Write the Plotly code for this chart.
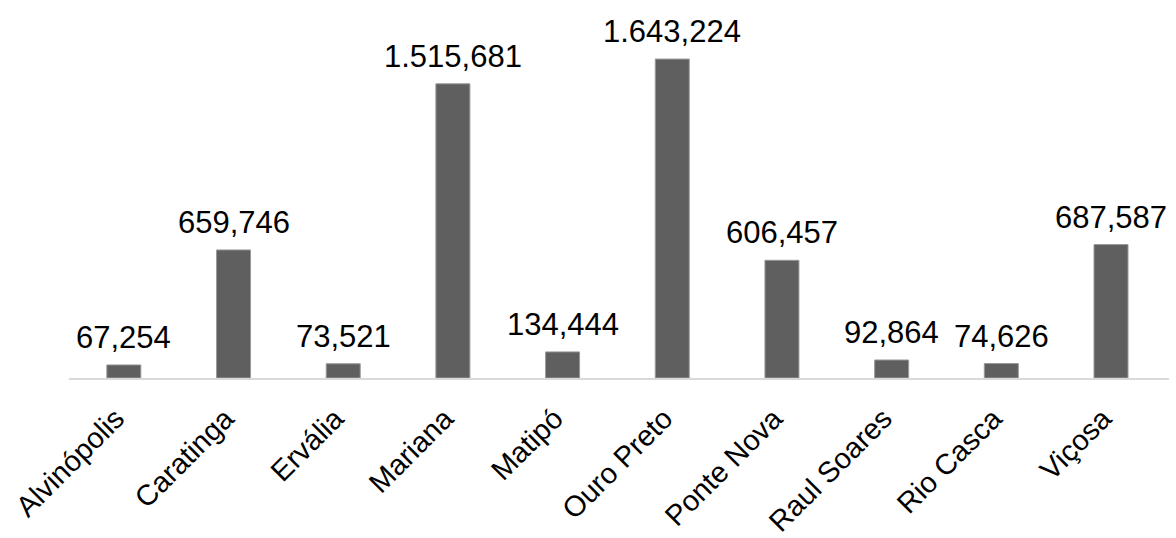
import plotly.graph_objects as go

categories = ["Alvinópolis", "Caratinga", "Ervália", "Mariana", "Matipó",
              "Ouro Preto", "Ponte Nova", "Raul Soares", "Rio Casca", "Viçosa"]
values = [67.254, 659.746, 73.521, 1515.681, 134.444,
          1643.224, 606.457, 92.864, 74.626, 687.587]
labels = ["67,254", "659,746", "73,521", "1.515,681", "134,444",
          "1.643,224", "606,457", "92,864", "74,626", "687,587"]

FONT = "Liberation Sans, Arial, sans-serif"

fig = go.Figure()
fig.add_trace(go.Bar(
    x=categories, y=values,
    marker=dict(color="#5f5f5f", line=dict(color="#9a9a9a", width=1)),
    hoverinfo="skip",
))

for c, v, t in zip(categories, values, labels):
    fig.add_annotation(x=c, y=v, text=t, showarrow=False,
                       yanchor="bottom", yshift=8,
                       font=dict(family=FONT, size=31, color="#000000"))

fig.update_layout(
    width=1176, height=538,
    margin=dict(l=69, r=7, t=20, b=160, autoexpand=False),
    paper_bgcolor="white", plot_bgcolor="white",
    bargap=0.69,
    showlegend=False,
    font=dict(family=FONT, size=31, color="#000000"),
    xaxis=dict(showline=True, linecolor="#d9d9d9", linewidth=2,
               tickangle=-45, ticks="", showgrid=False,
               automargin=False, ticklabelstandoff=10, ticklabelshift=-8,
               tickfont=dict(family=FONT, size=29, color="#000000")),
    yaxis=dict(visible=False, range=[0, 358 / 0.1941], showgrid=False,
               zeroline=False, automargin=False),
)

fig.write_html("out.html")
